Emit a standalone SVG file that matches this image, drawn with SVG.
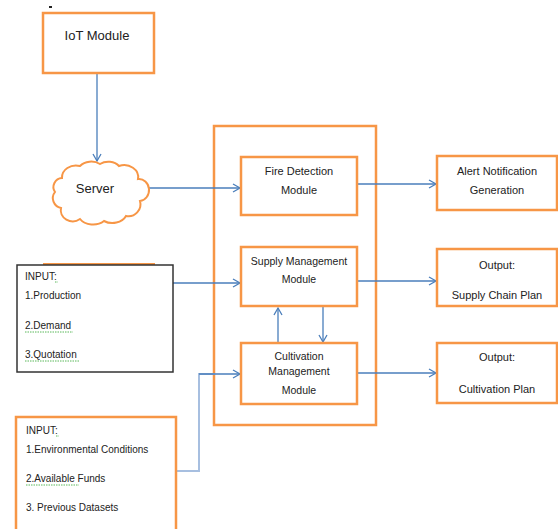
<svg xmlns="http://www.w3.org/2000/svg" width="558" height="529" viewBox="0 0 558 529">
<style>
.box{fill:#fff;stroke:#f79646;stroke-width:2.5}
.in{fill:#fff;stroke:#333;stroke-width:1.5}
.t{font-family:"Liberation Sans",Arial,sans-serif;font-size:11px;fill:#222;text-anchor:middle}
.tl{font-family:"Liberation Sans",Arial,sans-serif;font-size:10px;fill:#222}
.c{fill:none;stroke:#4a7ebb;stroke-width:1.3}
.cl{fill:none;stroke:#a7bfe0;stroke-width:2}
.sq{fill:none;stroke:#5bb85b;stroke-width:1;stroke-dasharray:1.5 1}
</style>
<defs>
<marker id="ah" markerWidth="10" markerHeight="10" refX="8" refY="5" orient="auto" markerUnits="userSpaceOnUse">
<path d="M1,1 L8,5 L1,9" fill="none" stroke="#4a7ebb" stroke-width="1.3"/>
</marker>
</defs>
<rect x="49" y="6" width="3" height="2" fill="#222"/>
<g id="container"><rect class="box" x="214" y="126" width="162" height="299"/></g>
<g id="connectors">
<line class="c" x1="97" y1="73" x2="97" y2="161" marker-end="url(#ah)"/>
<line class="c" x1="144" y1="188" x2="240" y2="188" marker-end="url(#ah)"/>
<line class="c" x1="357" y1="184" x2="436" y2="184" marker-end="url(#ah)"/>
<line class="c" x1="173" y1="283" x2="240" y2="283" marker-end="url(#ah)"/>
<line class="c" x1="357" y1="281" x2="436" y2="281" marker-end="url(#ah)"/>
<line class="c" x1="278" y1="343" x2="278" y2="308" marker-end="url(#ah)"/>
<line class="c" x1="323" y1="306" x2="323" y2="342" marker-end="url(#ah)"/>
<polyline class="cl" points="177,471 199,471 199,374 215,374"/>
<line class="c" x1="199" y1="374" x2="240" y2="374" marker-end="url(#ah)"/>
<line class="c" x1="357" y1="373" x2="436" y2="373" marker-end="url(#ah)"/>
</g>
<g id="iot"><rect class="box" x="43" y="13" width="111" height="60"/><text class="t" x="97" y="40" style="font-size:13px">IoT Module</text></g>
<g id="server">
<path d="M62,178 A14,12 0 0 1 80,166 A14,11 0 0 1 100,164 A13,10 0 0 1 119,166 A14,12 0 0 1 138,179 A10,11 0 0 1 140,201 A12,12 0 0 1 126,216 A15,12 0 0 1 104,221 A15,11 0 0 1 80,219 A12,11 0 0 1 61,208 A10,10 0 0 1 55,192 A9,9 0 0 1 62,178 Z" fill="#fff" stroke="#f79646" stroke-width="2"/>
<text class="t" x="95" y="193" style="font-size:13px">Server</text>
</g>
<g id="fire"><rect class="box" x="241" y="157" width="116" height="58"/><text class="t" x="299" y="175">Fire Detection</text><text class="t" x="299" y="194">Module</text></g>
<g id="supply"><rect class="box" x="241" y="247" width="116" height="59"/><text class="t" x="299" y="265" style="font-size:10.5px">Supply Management</text><text class="t" x="299" y="283" style="font-size:10.5px">Module</text></g>
<g id="cultivation"><rect class="box" x="241" y="343" width="116" height="61"/><text class="t" x="299" y="360" style="font-size:10.5px">Cultivation</text><text class="t" x="299" y="375" style="font-size:10.5px">Management</text><text class="t" x="299" y="394" style="font-size:10.5px">Module</text></g>
<g id="alert"><rect class="box" x="437" y="156" width="120" height="54"/><text class="t" x="497" y="175">Alert Notification</text><text class="t" x="497" y="194">Generation</text></g>
<g id="supplyout"><rect class="box" x="437" y="249" width="120" height="57"/><text class="t" x="497" y="269">Output:</text><text class="t" x="497" y="299">Supply Chain Plan</text></g>
<g id="cultout"><rect class="box" x="437" y="343" width="120" height="60"/><text class="t" x="497" y="361">Output:</text><text class="t" x="497" y="393">Cultivation Plan</text></g>
<g id="input1">
<line x1="43" y1="264" x2="155" y2="264" stroke="#f79646" stroke-width="2"/>
<rect class="in" x="17" y="265" width="156" height="107"/>
<text class="tl" x="25" y="280">INPUT:</text>
<text class="tl" x="25" y="299">1.Production</text>
<text class="tl" x="25" y="329">2.Demand</text>
<text class="tl" x="25" y="358">3.Quotation</text>
<path class="sq" d="M55,282 h3 M25,332 h48 M25,361 h55"/>
</g>
<g id="input2">
<rect class="box" x="16" y="417" width="160" height="116"/>
<text class="tl" x="26" y="434">INPUT:</text>
<text class="tl" x="26" y="453">1.Environmental  Conditions</text>
<text class="tl" x="26" y="482">2.Available Funds</text>
<text class="tl" x="26" y="511">3. Previous Datasets</text>
<path class="sq" d="M56,436 h3 M26,485 h53"/>
</g>
</svg>
